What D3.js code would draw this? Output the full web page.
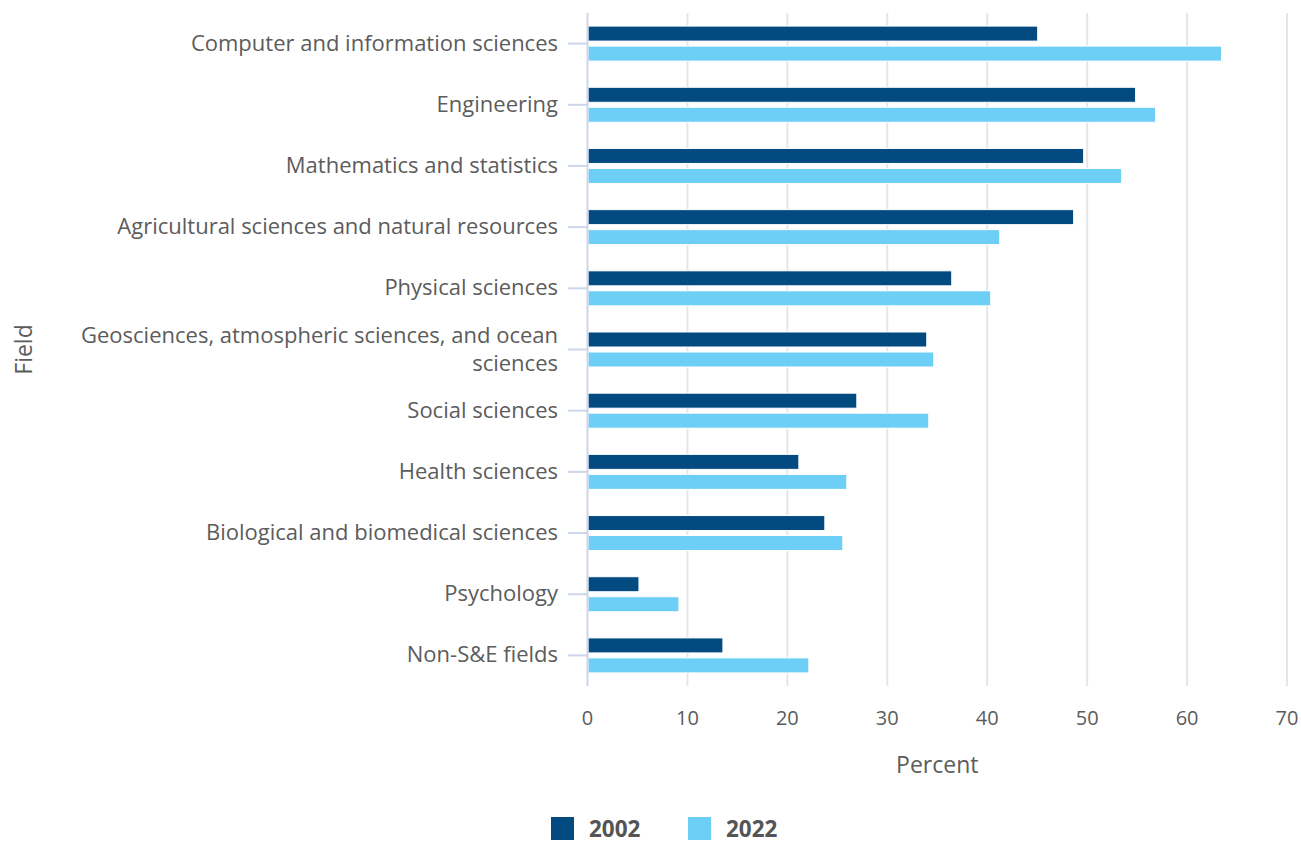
<!DOCTYPE html>
<html>
<head>
<meta charset="utf-8">
<script src="https://cdn.jsdelivr.net/npm/d3@7"></script>
<style>
  body { margin: 0; background: #fff; }
  text { font-family: "Open Sans", sans-serif; }
</style>
</head>
<body>
<script>
const fields = [
    'Computer and information sciences',
    'Engineering',
    'Mathematics and statistics',
    'Agricultural sciences and natural resources',
    'Physical sciences',
    'Geosciences, atmospheric sciences, and ocean sciences',
    'Social sciences',
    'Health sciences',
    'Biological and biomedical sciences',
    'Psychology',
    'Non-S&E fields',
];
const years = ['2002', '2022'];
const values2002 = [45.0, 54.8, 49.6, 48.6, 36.4, 33.9, 26.9, 21.1, 23.7, 5.1, 13.5];
const values2022 = [63.4, 56.8, 53.4, 41.2, 40.3, 34.6, 34.1, 25.9, 25.5, 9.1, 22.1];
const xTicks = [0, 10, 20, 30, 40, 50, 60, 70];
// long labels broken the way the original wraps them
const labelLines = {
    'Geosciences, atmospheric sciences, and ocean sciences':
        ['Geosciences, atmospheric sciences, and ocean', 'sciences'],
};

const colors = { '2002': '#034a80', '2022': '#6dcff6' };
const textColor = '#5c5c5c';

function main()
{
    const W = 1301, H = 844;
    const left = 587.5, right = 1287, top = 13, bottom = 686;

    const svg = d3.select('body').append('svg')
        .attr('width', W)
        .attr('height', H);

    const scX = d3.scaleLinear().domain([0, 70]).range([left, right]);
    const scY = d3.scaleBand().domain(fields).range([top, bottom])
        .paddingInner(0.428).paddingOuter(0.214);
    const scYear = d3.scaleBand().domain(years).range([0, scY.bandwidth()])
        .paddingInner(0.25);

    // gridlines
    svg.append('g').selectAll('line')
        .data(xTicks.filter(t => t > 0))
        .join('line')
        .attr('x1', d => scX(d)).attr('x2', d => scX(d))
        .attr('y1', top).attr('y2', bottom)
        .attr('stroke', '#e6e6e6')
        .attr('stroke-width', 2);

    // bars
    const rows = fields.map((f, i) => ({ field: f, '2002': values2002[i], '2022': values2022[i] }));
    const groups = svg.append('g').selectAll('g')
        .data(rows)
        .join('g')
        .attr('transform', d => `translate(0,${scY(d.field)})`);
    groups.selectAll('rect')
        .data(d => years.map(y => ({ year: y, value: d[y] })))
        .join('rect')
        .attr('x', scX(0) + 0.5)
        .attr('y', d => scYear(d.year))
        .attr('width', d => scX(d.value) - scX(0))
        .attr('height', scYear.bandwidth())
        .attr('fill', d => colors[d.year])
        .attr('stroke', '#fff')
        .attr('stroke-width', 1);

    // y axis
    const yAxis = svg.append('g');
    yAxis.append('line')
        .attr('x1', left).attr('x2', left)
        .attr('y1', top).attr('y2', bottom)
        .attr('stroke', '#ccd6eb').attr('stroke-width', 2);
    const yTicks = yAxis.selectAll('g.tick')
        .data(fields)
        .join('g')
        .attr('class', 'tick')
        .attr('transform', d => `translate(0,${scY(d) + scY.bandwidth() / 2})`);
    yTicks.append('line')
        .attr('x1', 568).attr('x2', left)
        .attr('stroke', '#ccd6eb').attr('stroke-width', 2);
    yTicks.append('text')
        .attr('text-anchor', 'end')
        .attr('x', 558)
        .attr('fill', textColor)
        .style('font-size', '22px')
        .each(function(d) {
            const lines = labelLines[d] || [d];
            const t = d3.select(this);
            lines.forEach((ln, i) => {
                t.append('tspan')
                    .attr('x', 558)
                    .attr('y', (i - (lines.length - 1) / 2) * 28 + 7)
                    .text(ln);
            });
        });

    // x axis labels
    svg.append('g').selectAll('text')
        .data(xTicks)
        .join('text')
        .attr('x', d => scX(d))
        .attr('y', 725)
        .attr('text-anchor', 'middle')
        .attr('fill', textColor)
        .style('font-size', '20px')
        .text(d => d);

    svg.append('text')
        .attr('x', (left + right) / 2)
        .attr('y', 773)
        .attr('text-anchor', 'middle')
        .attr('fill', textColor)
        .style('font-size', '23px')
        .text('Percent');

    svg.append('text')
        .attr('transform', `translate(32,${(top + bottom) / 2}) rotate(-90)`)
        .attr('text-anchor', 'middle')
        .attr('fill', textColor)
        .style('font-size', '23px')
        .text('Field');

    // legend
    const legendX = [551, 688];
    const legend = svg.append('g').selectAll('g')
        .data(years)
        .join('g')
        .attr('transform', (d, i) => `translate(${legendX[i]},817)`);
    legend.append('rect')
        .attr('width', 23).attr('height', 23)
        .attr('fill', d => colors[d]);
    legend.append('text')
        .attr('x', 38).attr('y', 20)
        .attr('fill', '#555')
        .style('font-size', '22.5px')
        .style('font-weight', 'bold')
        .text(d => d);
}

main();
</script>
</body>
</html>
